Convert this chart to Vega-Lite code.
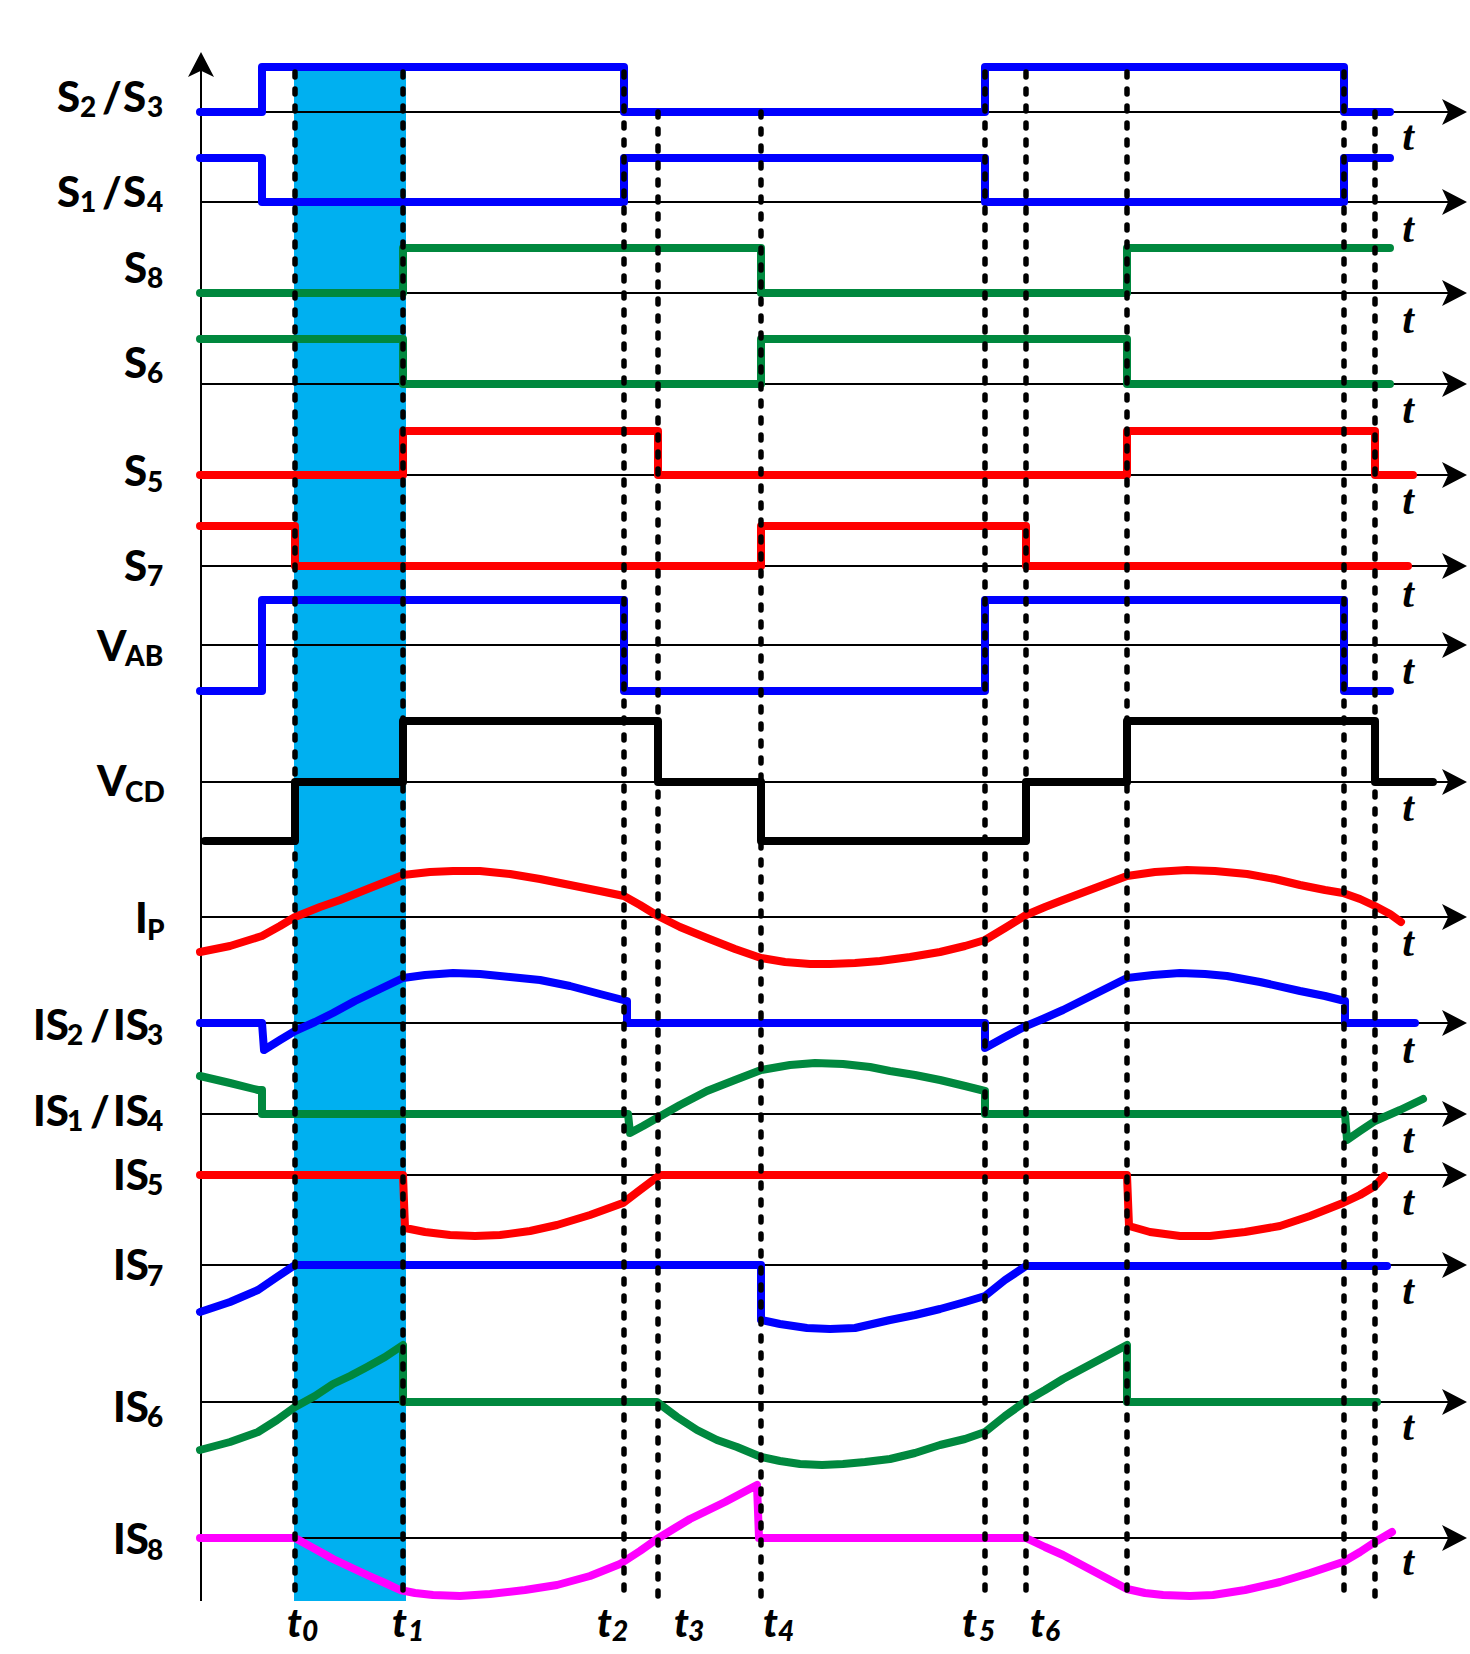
{
"$schema":"https://vega.github.io/schema/vega-lite/v6.json",
"width":1470,"height":1654,"autosize":{"type":"none"},"padding":0,
"background":"white",
"config":{"view":{"stroke":null}},
"datasets":{
"band":[{"x":294,"x2":406,"y":68,"y2":1601}],
"vaxis":[{"x":201,"y":62,"y2":1601}],
"haxes":[{"x":200,"x2":1450,"y":112},{"x":200,"x2":1450,"y":202},{"x":200,"x2":1450,"y":293},{"x":200,"x2":1450,"y":384},{"x":200,"x2":1450,"y":475},{"x":200,"x2":1450,"y":566},{"x":200,"x2":1450,"y":645},{"x":200,"x2":1450,"y":782},{"x":200,"x2":1450,"y":917},{"x":200,"x2":1450,"y":1023},{"x":200,"x2":1450,"y":1114},{"x":200,"x2":1450,"y":1175},{"x":200,"x2":1450,"y":1265},{"x":200,"x2":1450,"y":1402},{"x":200,"x2":1450,"y":1538}],
"arrowUp":[{"x":201,"y":65}],
"arrowRight":[{"x":1454,"y":112},{"x":1454,"y":202},{"x":1454,"y":293},{"x":1454,"y":384},{"x":1454,"y":475},{"x":1454,"y":566},{"x":1454,"y":645},{"x":1454,"y":782},{"x":1454,"y":917},{"x":1454,"y":1023},{"x":1454,"y":1114},{"x":1454,"y":1175},{"x":1454,"y":1265},{"x":1454,"y":1402},{"x":1454,"y":1538}],
"dash":[{"x":295,"y":72,"y2":1601},{"x":403,"y":72,"y2":1601},{"x":624,"y":72,"y2":1601},{"x":658,"y":112,"y2":1601},{"x":761,"y":112,"y2":1601},{"x":985,"y":72,"y2":1601},{"x":1026,"y":72,"y2":1601},{"x":1127,"y":72,"y2":1601},{"x":1344,"y":72,"y2":1601},{"x":1375,"y":112,"y2":1601}],
"sig":[
{"s":"S23","i":1,"x":200,"y":112},{"s":"S23","i":2,"x":262,"y":112},{"s":"S23","i":3,"x":262,"y":67},{"s":"S23","i":4,"x":624,"y":67},{"s":"S23","i":5,"x":624,"y":112},{"s":"S23","i":6,"x":985,"y":112},{"s":"S23","i":7,"x":985,"y":67},{"s":"S23","i":8,"x":1344,"y":67},{"s":"S23","i":9,"x":1344,"y":112},{"s":"S23","i":10,"x":1390,"y":112},
{"s":"S14","i":1,"x":200,"y":158},{"s":"S14","i":2,"x":262,"y":158},{"s":"S14","i":3,"x":262,"y":202},{"s":"S14","i":4,"x":624,"y":202},{"s":"S14","i":5,"x":624,"y":158},{"s":"S14","i":6,"x":985,"y":158},{"s":"S14","i":7,"x":985,"y":202},{"s":"S14","i":8,"x":1344,"y":202},{"s":"S14","i":9,"x":1344,"y":158},{"s":"S14","i":10,"x":1390,"y":158},
{"s":"S8","i":1,"x":200,"y":293},{"s":"S8","i":2,"x":403,"y":293},{"s":"S8","i":3,"x":403,"y":248},{"s":"S8","i":4,"x":761,"y":248},{"s":"S8","i":5,"x":761,"y":293},{"s":"S8","i":6,"x":1127,"y":293},{"s":"S8","i":7,"x":1127,"y":248},{"s":"S8","i":8,"x":1390,"y":248},
{"s":"S6","i":1,"x":200,"y":339},{"s":"S6","i":2,"x":403,"y":339},{"s":"S6","i":3,"x":403,"y":384},{"s":"S6","i":4,"x":761,"y":384},{"s":"S6","i":5,"x":761,"y":339},{"s":"S6","i":6,"x":1127,"y":339},{"s":"S6","i":7,"x":1127,"y":384},{"s":"S6","i":8,"x":1390,"y":384},
{"s":"S5","i":1,"x":200,"y":475},{"s":"S5","i":2,"x":403,"y":475},{"s":"S5","i":3,"x":403,"y":431},{"s":"S5","i":4,"x":658,"y":431},{"s":"S5","i":5,"x":658,"y":475},{"s":"S5","i":6,"x":1127,"y":475},{"s":"S5","i":7,"x":1127,"y":431},{"s":"S5","i":8,"x":1375,"y":431},{"s":"S5","i":9,"x":1375,"y":475},{"s":"S5","i":10,"x":1413,"y":475},
{"s":"S7","i":1,"x":200,"y":526},{"s":"S7","i":2,"x":295,"y":526},{"s":"S7","i":3,"x":295,"y":566},{"s":"S7","i":4,"x":761,"y":566},{"s":"S7","i":5,"x":761,"y":526},{"s":"S7","i":6,"x":1026,"y":526},{"s":"S7","i":7,"x":1026,"y":566},{"s":"S7","i":8,"x":1408,"y":566},
{"s":"VAB","i":1,"x":200,"y":691},{"s":"VAB","i":2,"x":262,"y":691},{"s":"VAB","i":3,"x":262,"y":600},{"s":"VAB","i":4,"x":624,"y":600},{"s":"VAB","i":5,"x":624,"y":691},{"s":"VAB","i":6,"x":985,"y":691},{"s":"VAB","i":7,"x":985,"y":600},{"s":"VAB","i":8,"x":1344,"y":600},{"s":"VAB","i":9,"x":1344,"y":691},{"s":"VAB","i":10,"x":1390,"y":691},
{"s":"VCD","i":1,"x":205,"y":841},{"s":"VCD","i":2,"x":295,"y":841},{"s":"VCD","i":3,"x":295,"y":782},{"s":"VCD","i":4,"x":403,"y":782},{"s":"VCD","i":5,"x":403,"y":721},{"s":"VCD","i":6,"x":658,"y":721},{"s":"VCD","i":7,"x":658,"y":782},{"s":"VCD","i":8,"x":761,"y":782},{"s":"VCD","i":9,"x":761,"y":841},{"s":"VCD","i":10,"x":1026,"y":841},{"s":"VCD","i":11,"x":1026,"y":782},{"s":"VCD","i":12,"x":1127,"y":782},{"s":"VCD","i":13,"x":1127,"y":721},{"s":"VCD","i":14,"x":1375,"y":721},{"s":"VCD","i":15,"x":1375,"y":782},{"s":"VCD","i":16,"x":1433,"y":782},
{"s":"IP","i":1,"x":200,"y":952},{"s":"IP","i":2,"x":230,"y":946},{"s":"IP","i":3,"x":262,"y":936},{"s":"IP","i":4,"x":280,"y":926},{"s":"IP","i":5,"x":295,"y":917},{"s":"IP","i":6,"x":320,"y":907},{"s":"IP","i":7,"x":340,"y":900},{"s":"IP","i":8,"x":370,"y":888},{"s":"IP","i":9,"x":403,"y":875},{"s":"IP","i":10,"x":430,"y":872},{"s":"IP","i":11,"x":453,"y":871},{"s":"IP","i":12,"x":480,"y":871},{"s":"IP","i":13,"x":510,"y":874},{"s":"IP","i":14,"x":540,"y":879},{"s":"IP","i":15,"x":570,"y":885},{"s":"IP","i":16,"x":600,"y":891},{"s":"IP","i":17,"x":624,"y":896},{"s":"IP","i":18,"x":640,"y":905},{"s":"IP","i":19,"x":658,"y":916},{"s":"IP","i":20,"x":680,"y":927},{"s":"IP","i":21,"x":707,"y":938},{"s":"IP","i":22,"x":735,"y":949},{"s":"IP","i":23,"x":761,"y":958},{"s":"IP","i":24,"x":785,"y":962},{"s":"IP","i":25,"x":810,"y":964},{"s":"IP","i":26,"x":830,"y":964},{"s":"IP","i":27,"x":855,"y":963},{"s":"IP","i":28,"x":880,"y":961},{"s":"IP","i":29,"x":910,"y":957},{"s":"IP","i":30,"x":940,"y":952},{"s":"IP","i":31,"x":965,"y":946},{"s":"IP","i":32,"x":985,"y":940},{"s":"IP","i":33,"x":1005,"y":928},{"s":"IP","i":34,"x":1026,"y":915},{"s":"IP","i":35,"x":1045,"y":907},{"s":"IP","i":36,"x":1063,"y":900},{"s":"IP","i":37,"x":1095,"y":888},{"s":"IP","i":38,"x":1127,"y":876},{"s":"IP","i":39,"x":1155,"y":872},{"s":"IP","i":40,"x":1187,"y":870},{"s":"IP","i":41,"x":1215,"y":871},{"s":"IP","i":42,"x":1247,"y":874},{"s":"IP","i":43,"x":1275,"y":879},{"s":"IP","i":44,"x":1300,"y":885},{"s":"IP","i":45,"x":1325,"y":890},{"s":"IP","i":46,"x":1343,"y":893},{"s":"IP","i":47,"x":1360,"y":899},{"s":"IP","i":48,"x":1375,"y":906},{"s":"IP","i":49,"x":1390,"y":914},{"s":"IP","i":50,"x":1401,"y":922},
{"s":"IS23","i":1,"x":200,"y":1023},{"s":"IS23","i":2,"x":262,"y":1023},{"s":"IS23","i":3,"x":264,"y":1050},{"s":"IS23","i":4,"x":280,"y":1040},{"s":"IS23","i":5,"x":295,"y":1031},{"s":"IS23","i":6,"x":315,"y":1022},{"s":"IS23","i":7,"x":333,"y":1013},{"s":"IS23","i":8,"x":355,"y":1001},{"s":"IS23","i":9,"x":380,"y":989},{"s":"IS23","i":10,"x":403,"y":978},{"s":"IS23","i":11,"x":425,"y":975},{"s":"IS23","i":12,"x":453,"y":973},{"s":"IS23","i":13,"x":480,"y":974},{"s":"IS23","i":14,"x":510,"y":977},{"s":"IS23","i":15,"x":540,"y":980},{"s":"IS23","i":16,"x":570,"y":986},{"s":"IS23","i":17,"x":600,"y":994},{"s":"IS23","i":18,"x":627,"y":1001},{"s":"IS23","i":19,"x":627,"y":1023},{"s":"IS23","i":20,"x":985,"y":1023},{"s":"IS23","i":21,"x":985,"y":1048},{"s":"IS23","i":22,"x":1005,"y":1037},{"s":"IS23","i":23,"x":1026,"y":1026},{"s":"IS23","i":24,"x":1045,"y":1018},{"s":"IS23","i":25,"x":1063,"y":1010},{"s":"IS23","i":26,"x":1095,"y":994},{"s":"IS23","i":27,"x":1127,"y":978},{"s":"IS23","i":28,"x":1153,"y":975},{"s":"IS23","i":29,"x":1180,"y":973},{"s":"IS23","i":30,"x":1205,"y":974},{"s":"IS23","i":31,"x":1227,"y":976},{"s":"IS23","i":32,"x":1260,"y":982},{"s":"IS23","i":33,"x":1300,"y":991},{"s":"IS23","i":34,"x":1325,"y":996},{"s":"IS23","i":35,"x":1345,"y":1001},{"s":"IS23","i":36,"x":1345,"y":1023},{"s":"IS23","i":37,"x":1415,"y":1023},
{"s":"IS14","i":1,"x":200,"y":1076},{"s":"IS14","i":2,"x":230,"y":1083},{"s":"IS14","i":3,"x":258,"y":1090},{"s":"IS14","i":4,"x":262,"y":1090},{"s":"IS14","i":5,"x":262,"y":1114},{"s":"IS14","i":6,"x":628,"y":1114},{"s":"IS14","i":7,"x":630,"y":1133},{"s":"IS14","i":8,"x":643,"y":1126},{"s":"IS14","i":9,"x":657,"y":1118},{"s":"IS14","i":10,"x":680,"y":1105},{"s":"IS14","i":11,"x":707,"y":1091},{"s":"IS14","i":12,"x":735,"y":1080},{"s":"IS14","i":13,"x":761,"y":1070},{"s":"IS14","i":14,"x":790,"y":1065},{"s":"IS14","i":15,"x":815,"y":1063},{"s":"IS14","i":16,"x":843,"y":1064},{"s":"IS14","i":17,"x":870,"y":1067},{"s":"IS14","i":18,"x":890,"y":1071},{"s":"IS14","i":19,"x":915,"y":1075},{"s":"IS14","i":20,"x":940,"y":1080},{"s":"IS14","i":21,"x":965,"y":1086},{"s":"IS14","i":22,"x":985,"y":1091},{"s":"IS14","i":23,"x":985,"y":1114},{"s":"IS14","i":24,"x":1345,"y":1114},{"s":"IS14","i":25,"x":1347,"y":1140},{"s":"IS14","i":26,"x":1360,"y":1131},{"s":"IS14","i":27,"x":1375,"y":1121},{"s":"IS14","i":28,"x":1400,"y":1110},{"s":"IS14","i":29,"x":1423,"y":1099},
{"s":"IS5","i":1,"x":200,"y":1175},{"s":"IS5","i":2,"x":403,"y":1175},{"s":"IS5","i":3,"x":405,"y":1228},{"s":"IS5","i":4,"x":425,"y":1232},{"s":"IS5","i":5,"x":450,"y":1235},{"s":"IS5","i":6,"x":475,"y":1236},{"s":"IS5","i":7,"x":500,"y":1235},{"s":"IS5","i":8,"x":530,"y":1231},{"s":"IS5","i":9,"x":557,"y":1225},{"s":"IS5","i":10,"x":590,"y":1215},{"s":"IS5","i":11,"x":623,"y":1203},{"s":"IS5","i":12,"x":640,"y":1190},{"s":"IS5","i":13,"x":660,"y":1175},{"s":"IS5","i":14,"x":1127,"y":1175},{"s":"IS5","i":15,"x":1129,"y":1226},{"s":"IS5","i":16,"x":1150,"y":1232},{"s":"IS5","i":17,"x":1180,"y":1236},{"s":"IS5","i":18,"x":1210,"y":1236},{"s":"IS5","i":19,"x":1245,"y":1232},{"s":"IS5","i":20,"x":1280,"y":1226},{"s":"IS5","i":21,"x":1310,"y":1216},{"s":"IS5","i":22,"x":1343,"y":1203},{"s":"IS5","i":23,"x":1360,"y":1195},{"s":"IS5","i":24,"x":1375,"y":1186},{"s":"IS5","i":25,"x":1384,"y":1176},
{"s":"IS7","i":1,"x":200,"y":1312},{"s":"IS7","i":2,"x":230,"y":1302},{"s":"IS7","i":3,"x":258,"y":1290},{"s":"IS7","i":4,"x":277,"y":1277},{"s":"IS7","i":5,"x":295,"y":1265},{"s":"IS7","i":6,"x":761,"y":1265},{"s":"IS7","i":7,"x":761,"y":1320},{"s":"IS7","i":8,"x":780,"y":1324},{"s":"IS7","i":9,"x":807,"y":1328},{"s":"IS7","i":10,"x":830,"y":1329},{"s":"IS7","i":11,"x":855,"y":1328},{"s":"IS7","i":12,"x":890,"y":1320},{"s":"IS7","i":13,"x":915,"y":1315},{"s":"IS7","i":14,"x":940,"y":1309},{"s":"IS7","i":15,"x":965,"y":1302},{"s":"IS7","i":16,"x":985,"y":1296},{"s":"IS7","i":17,"x":1005,"y":1280},{"s":"IS7","i":18,"x":1026,"y":1266},{"s":"IS7","i":19,"x":1387,"y":1266},
{"s":"IS6","i":1,"x":200,"y":1450},{"s":"IS6","i":2,"x":230,"y":1442},{"s":"IS6","i":3,"x":258,"y":1432},{"s":"IS6","i":4,"x":277,"y":1420},{"s":"IS6","i":5,"x":295,"y":1407},{"s":"IS6","i":6,"x":315,"y":1396},{"s":"IS6","i":7,"x":333,"y":1384},{"s":"IS6","i":8,"x":350,"y":1376},{"s":"IS6","i":9,"x":367,"y":1367},{"s":"IS6","i":10,"x":385,"y":1357},{"s":"IS6","i":11,"x":403,"y":1345},{"s":"IS6","i":12,"x":403,"y":1402},{"s":"IS6","i":13,"x":657,"y":1402},{"s":"IS6","i":14,"x":677,"y":1417},{"s":"IS6","i":15,"x":697,"y":1430},{"s":"IS6","i":16,"x":717,"y":1440},{"s":"IS6","i":17,"x":737,"y":1447},{"s":"IS6","i":18,"x":761,"y":1457},{"s":"IS6","i":19,"x":780,"y":1461},{"s":"IS6","i":20,"x":800,"y":1464},{"s":"IS6","i":21,"x":822,"y":1465},{"s":"IS6","i":22,"x":843,"y":1464},{"s":"IS6","i":23,"x":865,"y":1462},{"s":"IS6","i":24,"x":890,"y":1459},{"s":"IS6","i":25,"x":915,"y":1453},{"s":"IS6","i":26,"x":940,"y":1445},{"s":"IS6","i":27,"x":965,"y":1439},{"s":"IS6","i":28,"x":985,"y":1432},{"s":"IS6","i":29,"x":1005,"y":1416},{"s":"IS6","i":30,"x":1026,"y":1401},{"s":"IS6","i":31,"x":1045,"y":1390},{"s":"IS6","i":32,"x":1063,"y":1379},{"s":"IS6","i":33,"x":1095,"y":1362},{"s":"IS6","i":34,"x":1127,"y":1345},{"s":"IS6","i":35,"x":1127,"y":1402},{"s":"IS6","i":36,"x":1377,"y":1402},
{"s":"IS8","i":1,"x":200,"y":1538},{"s":"IS8","i":2,"x":295,"y":1538},{"s":"IS8","i":3,"x":315,"y":1549},{"s":"IS8","i":4,"x":333,"y":1559},{"s":"IS8","i":5,"x":350,"y":1567},{"s":"IS8","i":6,"x":367,"y":1575},{"s":"IS8","i":7,"x":385,"y":1583},{"s":"IS8","i":8,"x":400,"y":1590},{"s":"IS8","i":9,"x":415,"y":1593},{"s":"IS8","i":10,"x":433,"y":1595},{"s":"IS8","i":11,"x":460,"y":1596},{"s":"IS8","i":12,"x":490,"y":1594},{"s":"IS8","i":13,"x":525,"y":1590},{"s":"IS8","i":14,"x":557,"y":1585},{"s":"IS8","i":15,"x":590,"y":1576},{"s":"IS8","i":16,"x":620,"y":1564},{"s":"IS8","i":17,"x":640,"y":1551},{"s":"IS8","i":18,"x":657,"y":1539},{"s":"IS8","i":19,"x":675,"y":1528},{"s":"IS8","i":20,"x":690,"y":1519},{"s":"IS8","i":21,"x":725,"y":1502},{"s":"IS8","i":22,"x":757,"y":1485},{"s":"IS8","i":23,"x":759,"y":1538},{"s":"IS8","i":24,"x":1026,"y":1538},{"s":"IS8","i":25,"x":1045,"y":1547},{"s":"IS8","i":26,"x":1063,"y":1555},{"s":"IS8","i":27,"x":1095,"y":1572},{"s":"IS8","i":28,"x":1127,"y":1589},{"s":"IS8","i":29,"x":1145,"y":1593},{"s":"IS8","i":30,"x":1163,"y":1595},{"s":"IS8","i":31,"x":1190,"y":1596},{"s":"IS8","i":32,"x":1213,"y":1595},{"s":"IS8","i":33,"x":1245,"y":1590},{"s":"IS8","i":34,"x":1280,"y":1582},{"s":"IS8","i":35,"x":1310,"y":1573},{"s":"IS8","i":36,"x":1343,"y":1562},{"s":"IS8","i":37,"x":1360,"y":1552},{"s":"IS8","i":38,"x":1375,"y":1542},{"s":"IS8","i":39,"x":1392,"y":1532}
],
"labMain":[{"txt":"S","x":57,"y":112},{"txt":"/","x":102,"y":112},{"txt":"S","x":123,"y":112},
{"txt":"S","x":57,"y":207},{"txt":"/","x":102,"y":207},{"txt":"S","x":123,"y":207},
{"txt":"S","x":124,"y":283},{"txt":"S","x":124,"y":378},{"txt":"S","x":124,"y":486},{"txt":"S","x":124,"y":581},
{"txt":"V","x":97,"y":661},{"txt":"V","x":97,"y":796},{"txt":"I","x":135,"y":933},
{"txt":"IS","x":33,"y":1040},{"txt":"/","x":90,"y":1040},{"txt":"IS","x":113,"y":1040},
{"txt":"IS","x":33,"y":1126},{"txt":"/","x":90,"y":1126},{"txt":"IS","x":113,"y":1126},
{"txt":"IS","x":113,"y":1190},{"txt":"IS","x":113,"y":1280},{"txt":"IS","x":113,"y":1422},{"txt":"IS","x":113,"y":1554}],
"labSub":[{"txt":"2","x":80,"y":117},{"txt":"3","x":147,"y":117},{"txt":"1","x":80,"y":212},{"txt":"4","x":147,"y":212},
{"txt":"8","x":147,"y":288},{"txt":"6","x":147,"y":383},{"txt":"5","x":147,"y":492},{"txt":"7","x":147,"y":586},
{"txt":"AB","x":125,"y":666},{"txt":"CD","x":125,"y":802},{"txt":"P","x":147,"y":940},
{"txt":"2","x":67,"y":1045},{"txt":"3","x":147,"y":1045},{"txt":"1","x":67,"y":1131},{"txt":"4","x":147,"y":1131},
{"txt":"5","x":147,"y":1195},{"txt":"7","x":147,"y":1286},{"txt":"6","x":147,"y":1427},{"txt":"8","x":147,"y":1560}],
"tAxis":[{"txt":"t","x":1408,"y":150},{"txt":"t","x":1408,"y":242},{"txt":"t","x":1408,"y":333},{"txt":"t","x":1408,"y":423},{"txt":"t","x":1408,"y":514},{"txt":"t","x":1408,"y":607},{"txt":"t","x":1408,"y":684},{"txt":"t","x":1408,"y":821},{"txt":"t","x":1408,"y":956},{"txt":"t","x":1408,"y":1063},{"txt":"t","x":1408,"y":1153},{"txt":"t","x":1408,"y":1215},{"txt":"t","x":1408,"y":1304},{"txt":"t","x":1408,"y":1440},{"txt":"t","x":1408,"y":1575}],
"tickMain":[{"txt":"t","x":287,"y":1637},{"txt":"t","x":392,"y":1637},{"txt":"t","x":597,"y":1637},{"txt":"t","x":674,"y":1637},{"txt":"t","x":763,"y":1637},{"txt":"t","x":962,"y":1637},{"txt":"t","x":1030,"y":1637}],
"tickSub":[{"txt":"0","x":302,"y":1641},{"txt":"1","x":408,"y":1641},{"txt":"2","x":612,"y":1641},{"txt":"3","x":688,"y":1641},{"txt":"4","x":778,"y":1641},{"txt":"5","x":979,"y":1641},{"txt":"6","x":1045,"y":1641}]
},
"encoding":{
"x":{"field":"x","type":"quantitative","scale":{"domain":[0,1470],"nice":false,"zero":false},"axis":null},
"y":{"field":"y","type":"quantitative","scale":{"domain":[0,1654],"nice":false,"zero":false,"reverse":true},"axis":null}
},
"layer":[
{"data":{"name":"band"},"mark":{"type":"rect","color":"#00b0f0"},"encoding":{"x2":{"field":"x2"},"y2":{"field":"y2"}}},
{"data":{"name":"vaxis"},"mark":{"type":"rule","color":"black","strokeWidth":2},"encoding":{"y2":{"field":"y2"}}},
{"data":{"name":"haxes"},"mark":{"type":"rule","color":"black","strokeWidth":2},"encoding":{"x2":{"field":"x2"}}},
{"data":{"name":"sig"},"mark":{"type":"line","strokeWidth":8,"strokeCap":"round","strokeJoin":"round"},"encoding":{"color":{"field":"s","type":"nominal","legend":null,"scale":{"domain":["S23","S14","S8","S6","S5","S7","VAB","VCD","IP","IS23","IS14","IS5","IS7","IS6","IS8"],"range":["#0000ff","#0000ff","#00883e","#00883e","#ff0000","#ff0000","#0000ff","#000000","#ff0000","#0000ff","#00883e","#ff0000","#0000ff","#00883e","#ff00ff"]}},"order":{"field":"i","type":"quantitative"}}},
{"data":{"name":"dash"},"mark":{"type":"rule","color":"black","strokeWidth":5.5,"strokeDash":[5,12],"strokeCap":"round"},"encoding":{"y2":{"field":"y2"}}},
{"data":{"name":"arrowUp"},"mark":{"type":"point","shape":"M0,-1L-1,0.92L0,0.45L1,0.92Z","size":676,"filled":true,"color":"black","opacity":1,"strokeWidth":0}},
{"data":{"name":"arrowRight"},"mark":{"type":"point","shape":"M1,0L-0.92,-1L-0.45,0L-0.92,1Z","size":676,"filled":true,"color":"black","opacity":1,"strokeWidth":0}},
{"data":{"name":"labMain"},"mark":{"type":"text","font":"Lato","fontWeight":900,"fontSize":42,"align":"left","baseline":"alphabetic","color":"black"},"encoding":{"text":{"field":"txt"}}},
{"data":{"name":"labSub"},"mark":{"type":"text","font":"Lato","fontWeight":900,"fontSize":28,"align":"left","baseline":"alphabetic","color":"black"},"encoding":{"text":{"field":"txt"}}},
{"data":{"name":"tAxis"},"mark":{"type":"text","font":"Liberation Serif","fontWeight":"bold","fontStyle":"italic","fontSize":42,"align":"center","baseline":"alphabetic","color":"black"},"encoding":{"text":{"field":"txt"}}},
{"data":{"name":"tickMain"},"mark":{"type":"text","font":"Lato","fontWeight":900,"fontStyle":"italic","fontSize":40,"align":"left","baseline":"alphabetic","color":"black"},"encoding":{"text":{"field":"txt"}}},
{"data":{"name":"tickSub"},"mark":{"type":"text","font":"Lato","fontWeight":900,"fontStyle":"italic","fontSize":28,"align":"left","baseline":"alphabetic","color":"black"},"encoding":{"text":{"field":"txt"}}}
]
}
